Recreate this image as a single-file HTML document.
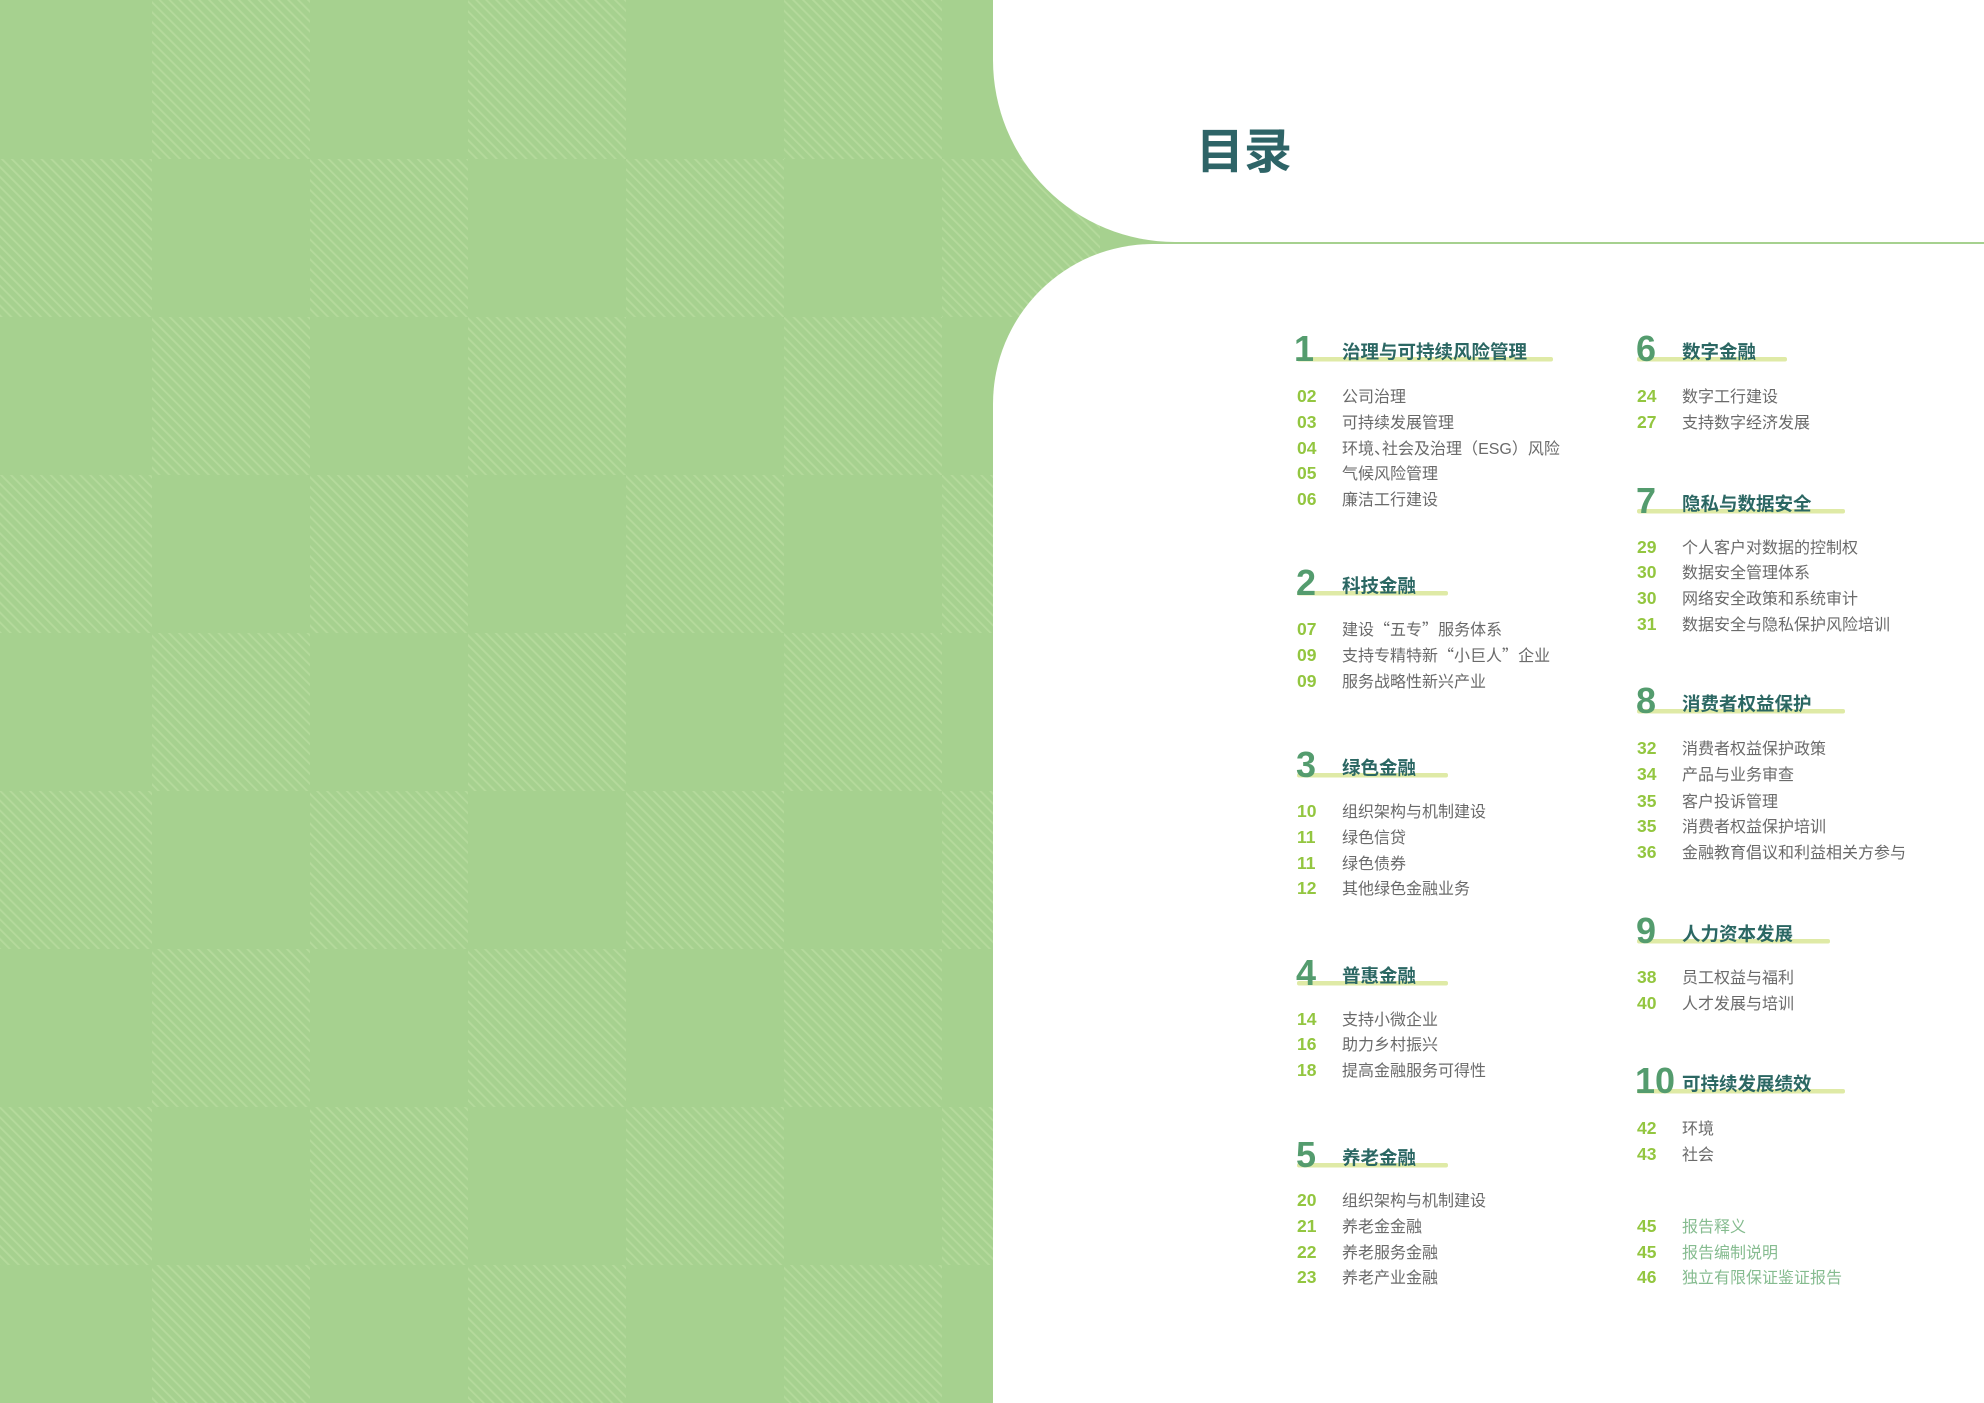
<!DOCTYPE html>
<html>
<head>
<meta charset="utf-8">
<style>
html,body{margin:0;padding:0;width:1984px;height:1403px;overflow:hidden;background:#ffffff}
svg{display:block}
.n{font-family:"Liberation Sans",sans-serif;font-weight:700;font-size:17.5px;fill:#93c640}
.t{font-family:"Liberation Sans","Noto Sans CJK SC",sans-serif;font-weight:400;font-size:16px;fill:#6a6a6a}
.e{fill:#86bc90}
.h{font-family:"Liberation Sans","Noto Sans CJK SC",sans-serif;font-weight:700;font-size:18.5px;fill:#2b6763}
.d{font-family:"Liberation Sans",sans-serif;font-weight:700;font-size:36px;fill:#549c6e}
.b{fill:#dfeaa6}
.q{font-family:"Noto Sans CJK SC",sans-serif}
.hp{font-family:"Noto Sans CJK SC",sans-serif;font-feature-settings:"halt" 1}
.ti{font-family:"Liberation Sans","Noto Sans CJK SC",sans-serif;font-weight:700;font-size:48px;fill:#2e6467}
</style>
</head>
<body>
<svg width="1984" height="1403" viewBox="0 0 1984 1403">
<defs>
<pattern id="st" width="7" height="7" patternUnits="userSpaceOnUse" patternTransform="rotate(-45)">
<rect width="7" height="7" fill="#a6d18f"/>
<rect x="0" y="0" width="1.8" height="7" fill="#b5da9c"/>
</pattern>
</defs>
<rect x="0" y="0" width="1984" height="1403" fill="#a6d18f"/>
<g fill="url(#st)">
<rect x="152" y="0" width="158" height="159"/>
<rect x="468" y="0" width="158" height="159"/>
<rect x="784" y="0" width="158" height="159"/>
<rect x="1100" y="0" width="158" height="159"/>
<rect x="-6" y="159" width="158" height="158"/>
<rect x="310" y="159" width="158" height="158"/>
<rect x="626" y="159" width="158" height="158"/>
<rect x="942" y="159" width="158" height="158"/>
<rect x="152" y="317" width="158" height="158"/>
<rect x="468" y="317" width="158" height="158"/>
<rect x="784" y="317" width="158" height="158"/>
<rect x="1100" y="317" width="158" height="158"/>
<rect x="-6" y="475" width="158" height="158"/>
<rect x="310" y="475" width="158" height="158"/>
<rect x="626" y="475" width="158" height="158"/>
<rect x="942" y="475" width="158" height="158"/>
<rect x="152" y="633" width="158" height="158"/>
<rect x="468" y="633" width="158" height="158"/>
<rect x="784" y="633" width="158" height="158"/>
<rect x="1100" y="633" width="158" height="158"/>
<rect x="-6" y="791" width="158" height="158"/>
<rect x="310" y="791" width="158" height="158"/>
<rect x="626" y="791" width="158" height="158"/>
<rect x="942" y="791" width="158" height="158"/>
<rect x="152" y="949" width="158" height="158"/>
<rect x="468" y="949" width="158" height="158"/>
<rect x="784" y="949" width="158" height="158"/>
<rect x="1100" y="949" width="158" height="158"/>
<rect x="-6" y="1107" width="158" height="158"/>
<rect x="310" y="1107" width="158" height="158"/>
<rect x="626" y="1107" width="158" height="158"/>
<rect x="942" y="1107" width="158" height="158"/>
<rect x="152" y="1265" width="158" height="138"/>
<rect x="468" y="1265" width="158" height="138"/>
<rect x="784" y="1265" width="158" height="138"/>
<rect x="1100" y="1265" width="158" height="138"/>
</g>

<path d="M993 0 H1984 V242 H1175 A182 182 0 0 1 993 60 Z" fill="#ffffff"/>
<path d="M1984 244 V1403 H993 V404 A160 160 0 0 1 1153 244 Z" fill="#ffffff"/>

<text class="ti" x="1196" y="168">目录</text>

<rect class="b" x="1297" y="357" width="256" height="4.5" rx="2"/>
<rect class="b" x="1297" y="591" width="151" height="4.5" rx="2"/>
<rect class="b" x="1297" y="773" width="151" height="4.5" rx="2"/>
<rect class="b" x="1297" y="981" width="151" height="4.5" rx="2"/>
<rect class="b" x="1297" y="1163" width="151" height="4.5" rx="2"/>
<rect class="b" x="1637" y="357" width="150" height="4.5" rx="2"/>
<rect class="b" x="1637" y="509" width="208" height="4.5" rx="2"/>
<rect class="b" x="1637" y="709" width="208" height="4.5" rx="2"/>
<rect class="b" x="1637" y="939" width="193" height="4.5" rx="2"/>
<rect class="b" x="1637" y="1089" width="208" height="4.5" rx="2"/>

<text class="d" x="1294" y="361">1</text>
<text class="h" x="1342" y="358.5">治理与可持续风险管理</text>
<text class="n" x="1297" y="402">02</text><text class="t" x="1342" y="402">公司治理</text>
<text class="n" x="1297" y="428">03</text><text class="t" x="1342" y="428">可持续发展管理</text>
<text class="n" x="1297" y="454">04</text><text class="t" x="1342" y="454">环境<tspan class="hp">、</tspan>社会及治理<tspan class="q">（</tspan>ESG<tspan class="q">）</tspan>风险</text>
<text class="n" x="1297" y="479">05</text><text class="t" x="1342" y="479">气候风险管理</text>
<text class="n" x="1297" y="505">06</text><text class="t" x="1342" y="505">廉洁工行建设</text>

<text class="d" x="1296" y="595">2</text>
<text class="h" x="1342" y="592.5">科技金融</text>
<text class="n" x="1297" y="635">07</text><text class="t" x="1342" y="635">建设<tspan class="q">“</tspan>五专<tspan class="q">”</tspan>服务体系</text>
<text class="n" x="1297" y="661">09</text><text class="t" x="1342" y="661">支持专精特新<tspan class="q">“</tspan>小巨人<tspan class="q">”</tspan>企业</text>
<text class="n" x="1297" y="687">09</text><text class="t" x="1342" y="687">服务战略性新兴产业</text>

<text class="d" x="1296" y="777">3</text>
<text class="h" x="1342" y="774.5">绿色金融</text>
<text class="n" x="1297" y="817">10</text><text class="t" x="1342" y="817">组织架构与机制建设</text>
<text class="n" x="1297" y="843">11</text><text class="t" x="1342" y="843">绿色信贷</text>
<text class="n" x="1297" y="869">11</text><text class="t" x="1342" y="869">绿色债券</text>
<text class="n" x="1297" y="894">12</text><text class="t" x="1342" y="894">其他绿色金融业务</text>

<text class="d" x="1296" y="985">4</text>
<text class="h" x="1342" y="982.5">普惠金融</text>
<text class="n" x="1297" y="1025">14</text><text class="t" x="1342" y="1025">支持小微企业</text>
<text class="n" x="1297" y="1050">16</text><text class="t" x="1342" y="1050">助力乡村振兴</text>
<text class="n" x="1297" y="1076">18</text><text class="t" x="1342" y="1076">提高金融服务可得性</text>

<text class="d" x="1296" y="1167">5</text>
<text class="h" x="1342" y="1164.5">养老金融</text>
<text class="n" x="1297" y="1206">20</text><text class="t" x="1342" y="1206">组织架构与机制建设</text>
<text class="n" x="1297" y="1232">21</text><text class="t" x="1342" y="1232">养老金金融</text>
<text class="n" x="1297" y="1258">22</text><text class="t" x="1342" y="1258">养老服务金融</text>
<text class="n" x="1297" y="1283">23</text><text class="t" x="1342" y="1283">养老产业金融</text>

<text class="d" x="1636" y="361">6</text>
<text class="h" x="1682" y="358.5">数字金融</text>
<text class="n" x="1637" y="402">24</text><text class="t" x="1682" y="402">数字工行建设</text>
<text class="n" x="1637" y="428">27</text><text class="t" x="1682" y="428">支持数字经济发展</text>

<text class="d" x="1636" y="513">7</text>
<text class="h" x="1682" y="510.5">隐私与数据安全</text>
<text class="n" x="1637" y="553">29</text><text class="t" x="1682" y="553">个人客户对数据的控制权</text>
<text class="n" x="1637" y="578">30</text><text class="t" x="1682" y="578">数据安全管理体系</text>
<text class="n" x="1637" y="604">30</text><text class="t" x="1682" y="604">网络安全政策和系统审计</text>
<text class="n" x="1637" y="630">31</text><text class="t" x="1682" y="630">数据安全与隐私保护风险培训</text>

<text class="d" x="1636" y="713">8</text>
<text class="h" x="1682" y="710.5">消费者权益保护</text>
<text class="n" x="1637" y="754">32</text><text class="t" x="1682" y="754">消费者权益保护政策</text>
<text class="n" x="1637" y="780">34</text><text class="t" x="1682" y="780">产品与业务审查</text>
<text class="n" x="1637" y="807">35</text><text class="t" x="1682" y="807">客户投诉管理</text>
<text class="n" x="1637" y="832">35</text><text class="t" x="1682" y="832">消费者权益保护培训</text>
<text class="n" x="1637" y="858">36</text><text class="t" x="1682" y="858">金融教育倡议和利益相关方参与</text>

<text class="d" x="1636" y="943">9</text>
<text class="h" x="1682" y="940.5">人力资本发展</text>
<text class="n" x="1637" y="983">38</text><text class="t" x="1682" y="983">员工权益与福利</text>
<text class="n" x="1637" y="1009">40</text><text class="t" x="1682" y="1009">人才发展与培训</text>

<text class="d" x="1635" y="1093">10</text>
<text class="h" x="1682" y="1090.5">可持续发展绩效</text>
<text class="n" x="1637" y="1134">42</text><text class="t" x="1682" y="1134">环境</text>
<text class="n" x="1637" y="1160">43</text><text class="t" x="1682" y="1160">社会</text>

<text class="n" x="1637" y="1232">45</text><text class="t e" x="1682" y="1232">报告释义</text>
<text class="n" x="1637" y="1258">45</text><text class="t e" x="1682" y="1258">报告编制说明</text>
<text class="n" x="1637" y="1283">46</text><text class="t e" x="1682" y="1283">独立有限保证鉴证报告</text>
</svg>
</body>
</html>
